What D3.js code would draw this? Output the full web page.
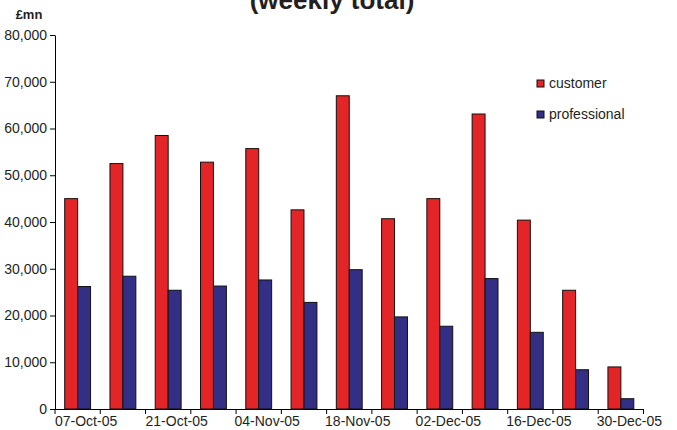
<!DOCTYPE html>
<html>
<head>
<meta charset="utf-8">
<script src="https://cdn.jsdelivr.net/npm/d3@7"></script>
<style>
  html, body { margin: 0; padding: 0; background: #fff; }
  svg { display: block; font-family: "Liberation Sans", Arial, sans-serif; }
</style>
</head>
<body>
<svg id="chart" width="677" height="430"></svg>
<script>
// Weekly totals, £mn
const weeks = ["07-Oct-05", "14-Oct-05", "21-Oct-05", "28-Oct-05", "04-Nov-05", "11-Nov-05",
               "18-Nov-05", "25-Nov-05", "02-Dec-05", "09-Dec-05", "16-Dec-05", "23-Dec-05", "30-Dec-05"];
const customer     = [45000, 52500, 58500, 52800, 55700, 42600, 67000, 40700, 45000, 63100, 40400, 25400, 9000];
const professional = [26200, 28400, 25400, 26300, 27600, 22800, 29800, 19700, 17700, 27900, 16400, 8400, 2200];
const seriesNames  = ["customer", "professional"];
const seriesColors = ["#e42528", "#332f84"];
const yTicks = [0, 10000, 20000, 30000, 40000, 50000, 60000, 70000, 80000];

const svg = d3.select("#chart");
const plotLeft = 55, plotRight = 643.5, plotTop = 35, plotBottom = 409;
const textColor = "#231f20";

const x = d3.scaleBand().domain(weeks).range([plotLeft, plotRight]).paddingInner(0).paddingOuter(0);
const xs = d3.scaleBand().domain(seriesNames).range([0, x.bandwidth()]).paddingInner(0).paddingOuter(0.75);
const y = d3.scaleLinear().domain([0, 80000]).range([plotBottom, plotTop]);
const color = d3.scaleOrdinal().domain(seriesNames).range(seriesColors);

// Title (only the lower line reaches into view)
svg.append("text")
  .attr("x", 332).attr("y", 9)
  .attr("text-anchor", "middle")
  .attr("font-size", 26).attr("font-weight", "bold")
  .attr("fill", textColor)
  .text("(weekly total)");

// Unit label
svg.append("text")
  .attr("x", 29).attr("y", 19)
  .attr("text-anchor", "middle")
  .attr("font-size", 13).attr("font-weight", "bold")
  .attr("fill", textColor)
  .text("£mn");

// Bars
const rows = weeks.map((w, i) => ({ week: w, values: [
  { key: "customer", value: customer[i] },
  { key: "professional", value: professional[i] }
]}));

const groups = svg.append("g").selectAll("g").data(rows).join("g")
  .attr("transform", d => `translate(${x(d.week)},0)`);

groups.selectAll("rect").data(d => d.values).join("rect")
  .attr("x", d => xs(d.key))
  .attr("y", d => y(d.value))
  .attr("width", xs.bandwidth())
  .attr("height", d => y(0) - y(d.value))
  .attr("fill", d => color(d.key))
  .attr("stroke", "#111")
  .attr("stroke-width", 1);

// Y axis
const yAxis = svg.append("g")
  .attr("transform", `translate(${plotLeft},0)`)
  .call(d3.axisLeft(y).tickValues(yTicks).tickFormat(d3.format(",")).tickSize(5).tickSizeOuter(0).tickPadding(3));
yAxis.select(".domain").attr("stroke", "#000");
yAxis.selectAll(".tick line").attr("stroke", "#000");
yAxis.selectAll(".tick text")
  .attr("font-size", 14).attr("fill", textColor)
  .attr("font-family", "Liberation Sans, Arial, sans-serif");

// X axis: ticks at week boundaries, labels every other week
const xAxis = svg.append("g");
xAxis.append("line")
  .attr("x1", plotLeft).attr("x2", plotRight)
  .attr("y1", plotBottom + 0.5).attr("y2", plotBottom + 0.5)
  .attr("stroke", "#000");
const boundaries = weeks.map(w => x(w)).concat([plotRight]);
xAxis.selectAll("line.tick").data(boundaries).join("line")
  .attr("class", "tick")
  .attr("x1", d => d).attr("x2", d => d)
  .attr("y1", plotBottom).attr("y2", plotBottom + 5)
  .attr("stroke", "#000");
xAxis.selectAll("text").data(weeks.filter((w, i) => i % 2 === 0)).join("text")
  .attr("x", d => x(d) + x.bandwidth() / 2 + 8.5)
  .attr("y", 426)
  .attr("text-anchor", "middle")
  .attr("font-size", 14)
  .attr("fill", textColor)
  .text(d => d);

// Legend
const legend = svg.append("g").selectAll("g").data(seriesNames).join("g")
  .attr("transform", (d, i) => `translate(537,${80 + i * 31})`);
legend.append("rect")
  .attr("width", 7).attr("height", 7)
  .attr("fill", d => color(d))
  .attr("stroke", "#111").attr("stroke-width", 1);
legend.append("text")
  .attr("x", 12).attr("y", 8)
  .attr("font-size", 14)
  .attr("fill", textColor)
  .text(d => d);
</script>
</body>
</html>
